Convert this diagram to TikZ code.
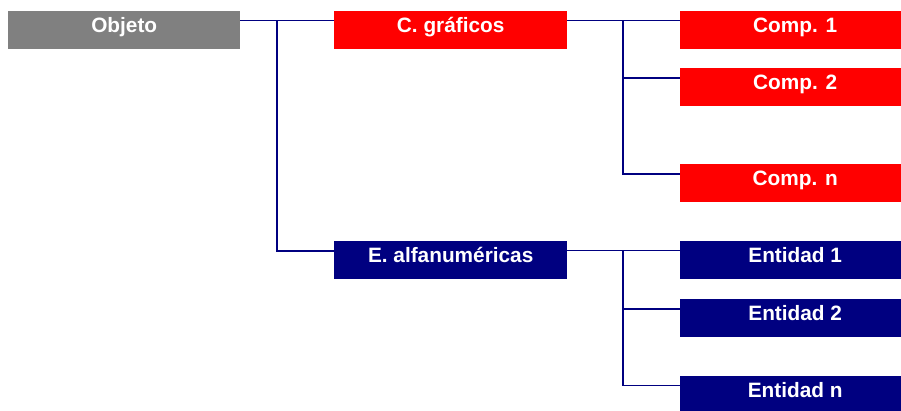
\documentclass[tikz,border=0pt]{standalone}
\usepackage{fontspec}
\setmainfont{Liberation Sans}
\usetikzlibrary{calc}
\definecolor{objgray}{HTML}{808080}
\definecolor{grred}{HTML}{FF0000}
\definecolor{alnavy}{HTML}{000080}
\tikzset{
  boxbase/.style={rectangle, inner sep=0pt, anchor=north west, text=white,
    font=\fontsize{20.8}{24}\selectfont\bfseries, text height=21pt, text depth=17pt},
  objbox/.style={boxbase, fill=objgray, minimum width=232pt},
  grbox/.style={boxbase, fill=grred},
  albox/.style={boxbase, fill=alnavy},
  midw/.style={minimum width=233pt},
  leafw/.style={minimum width=230pt},
  conn/.style={draw=alnavy, line width=1.8pt}
}
\begin{document}
\begin{tikzpicture}[x=1pt,y=-1pt]
\useasboundingbox (0,0) rectangle (901,410);
\clip (0,0) rectangle (901,410);
\node[objbox] (obj) at (8,11) {Objeto};
\node[grbox,midw] (cg) at (334,11) {C. gráficos};
\node[grbox,leafw] (c1) at (680,11) {Comp. 1};
\node[grbox,leafw] (c2) at (680,68) {Comp. 2};
\node[grbox,leafw] (cn) at (680,164) {Comp. n};
\node[albox,midw] (ea) at (334,241) {E. alfanuméricas};
\node[albox,leafw] (e1) at (680,241) {Entidad 1};
\node[albox,leafw] (e2) at (680,299) {Entidad 2};
\node[albox,leafw] (en) at (680,376) {Entidad n};
% junctions
\coordinate (j1) at (277,20.5);
\coordinate (j2) at (623,20.5);
\coordinate (j3) at (623,250.5);
\draw[conn] ($(obj.north east)+(0,9.5)$) -- ($(cg.north west)+(0,9.5)$);
\draw[conn] (j1) |- ($(ea.north west)+(0,10)$);
\draw[conn] ($(cg.north east)+(0,9.5)$) -- ($(c1.north west)+(0,9.5)$);
\draw[conn] (j2) |- ($(c2.north west)+(0,10)$);
\draw[conn] (j2) |- ($(cn.north west)+(0,10)$);
\draw[conn] ($(ea.north east)+(0,9.5)$) -- ($(e1.north west)+(0,9.5)$);
\draw[conn] (j3) |- ($(e2.north west)+(0,10)$);
\draw[conn] (j3) |- ($(en.north west)+(0,9.5)$);
\end{tikzpicture}
\end{document}
